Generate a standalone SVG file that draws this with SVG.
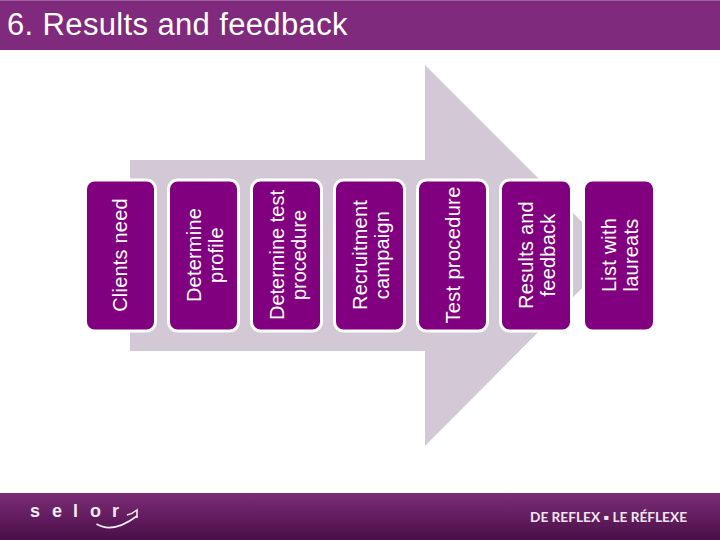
<svg xmlns="http://www.w3.org/2000/svg" width="720" height="540" viewBox="0 0 720 540">
<defs>
<linearGradient id="foot" x1="0" y1="0" x2="0" y2="1"><stop offset="0" stop-color="#7c2c76"/><stop offset="1" stop-color="#4a0f48"/></linearGradient>
</defs>
<style>
.box{fill:#800080;stroke:#fff;stroke-width:3}
.t{font-family:"Liberation Sans",Arial,sans-serif;font-size:20px;letter-spacing:.2px;fill:#fff;text-anchor:middle}
.title{font-family:"Liberation Sans",Arial,sans-serif;font-size:31px;letter-spacing:.36px;fill:#fff}
.logo{font-family:"Liberation Sans",Arial,sans-serif;font-size:18px;font-weight:bold;fill:#f4ecf4}
.tag{font-family:Lato,"Open Sans",sans-serif;font-size:13px;font-weight:bold;fill:#f0e6f0}
.sw{fill:none;stroke:#f4ecf4;stroke-width:1.6}
</style>
<rect width="720" height="540" fill="#fff"/>
<rect x="0" y="0" width="720" height="50" fill="#7f2a7d"/>
<rect x="0" y="0" width="720" height="1" fill="#a060a0"/>
<text class="title" x="7" y="35">6. Results and feedback</text>
<polygon points="130,160 425,160 425,65 615,255 425,446 425,351 130,351" fill="#d2c8d6"/>
<g id="n1"><rect class="box" x="85.500" y="180" width="70" height="151" rx="9"/><text class="t" transform="translate(127,255) rotate(-90)">Clients need</text></g>
<g id="n2"><rect class="box" x="168.500" y="180" width="70" height="151" rx="9"/><text class="t" transform="translate(201,255) rotate(-90)"><tspan x="0" y="0">Determine</tspan><tspan x="0" y="21.500">profile</tspan></text></g>
<g id="n3"><rect class="box" x="251.500" y="180" width="70" height="151" rx="9"/><text class="t" style="letter-spacing:0" transform="translate(284,255) rotate(-90)"><tspan x="0" y="0">Determine test</tspan><tspan x="0" y="21.500">procedure</tspan></text></g>
<g id="n4"><rect class="box" x="334.500" y="180" width="70" height="151" rx="9"/><text class="t" transform="translate(367,255) rotate(-90)"><tspan x="0" y="0">Recruitment</tspan><tspan x="0" y="21.500">campaign</tspan></text></g>
<g id="n5"><rect class="box" x="417.500" y="180" width="70" height="151" rx="9"/><text class="t" style="letter-spacing:.35px" transform="translate(460,255) rotate(-90)">Test procedure</text></g>
<g id="n6"><rect class="box" x="500.500" y="180" width="71" height="151" rx="9"/><text class="t" transform="translate(533,255) rotate(-90)"><tspan x="0" y="0">Results and</tspan><tspan x="0" y="21.500">feedback</tspan></text></g>
<g id="n7"><rect class="box" x="583.500" y="180" width="71" height="151" rx="9"/><text class="t" transform="translate(616,255) rotate(-90)"><tspan x="0" y="0">List with</tspan><tspan x="0" y="21.500">laureats</tspan></text></g>
<g id="connectors"></g>
<rect x="0" y="493" width="720" height="47" fill="url(#foot)"/>
<text class="logo" y="517" x="30 52 73 90 112">selor</text>
<path class="sw" d="M127,515 Q132,514 137,510 L137,518"/>
<path class="sw" d="M96.500,524 Q113,534 137,516"/>
<text class="tag" x="530" y="522" textLength="157" lengthAdjust="spacingAndGlyphs">DE REFLEX ▪ LE RÉFLEXE</text>
</svg>
